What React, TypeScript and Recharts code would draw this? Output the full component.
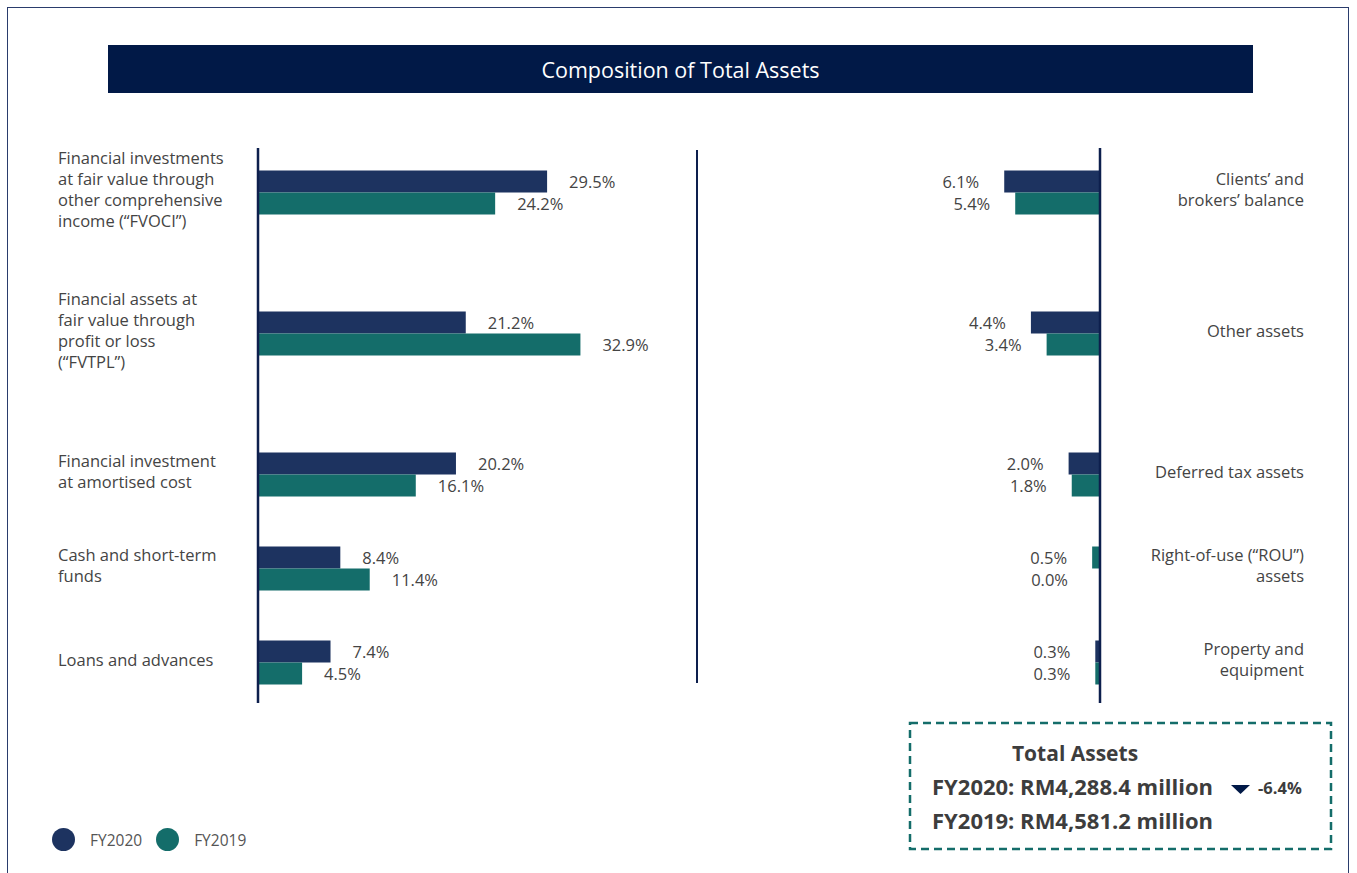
import React from 'react';
import { BarChart, Bar, XAxis, YAxis, LabelList, Legend, Cell } from 'recharts';

// ---- data ----
const leftCategories = [
  'Financial investments\nat fair value through\nother comprehensive\nincome (“FVOCI”)',
  'Financial assets at\nfair value through\nprofit or loss\n(“FVTPL”)',
  'Financial investment\nat amortised cost',
  'Cash and short-term\nfunds',
  'Loans and advances',
];
const leftFY2020 = [29.5, 21.2, 20.2, 8.4, 7.4];
const leftFY2019 = [24.2, 32.9, 16.1, 11.4, 4.5];

const rightCategories = [
  'Clients’ and\nbrokers’ balance',
  'Other assets',
  'Deferred tax assets',
  'Right-of-use (“ROU”)\nassets',
  'Property and\nequipment',
];
const rightFY2020 = [6.1, 4.4, 2.0, 0.5, 0.3];
const rightFY2019 = [5.4, 3.4, 1.8, 0.0, 0.3];

const seriesNames = ['FY2020', 'FY2019'];
const totalTitle = 'Total Assets';
const totalLines = ['FY2020: RM4,288.4 million', 'FY2019: RM4,581.2 million'];
const totalChange = '-6.4%';
const chartTitle = 'Composition of Total Assets';

// ---- layout (row slots on an 11-slot band axis) ----
const ROW_SLOTS = [0, 3, 6, 8, 10];
const SLOT_COUNT = 11;

const NAVY = '#1d3360';
const TEAL = '#146d6a';
const AXIS = '#0d1f4d';
const TEXT = '#444444';
const FONT = '"Open Sans", Lato, sans-serif';

function buildRows(cats: string[], a: number[], b: number[]) {
  const rows: any[] = [];
  for (let s = 0; s < SLOT_COUNT; s++) {
    const idx = ROW_SLOTS.indexOf(s);
    if (idx >= 0) rows.push({ name: cats[idx], fy2020: a[idx], fy2019: b[idx] });
    else rows.push({ name: `__gap${s}`, fy2020: null, fy2019: null });
  }
  return rows;
}

const leftRows = buildRows(leftCategories, leftFY2020, leftFY2019);
const rightRows = buildRows(rightCategories, rightFY2020, rightFY2019);

const LINE_H = 21;
const LBL_SIZE = 16.5;
const VAL_SIZE = 16.5;

function MultiTick(props: any) {
  const { y, payload, tx, anchor } = props;
  const v: string = payload && payload.value != null ? String(payload.value) : '';
  if (!v || v.startsWith('__gap')) return null;
  const lines = v.split('\n');
  const start = y - ((lines.length - 1) / 2) * LINE_H - 2;
  return (
    <text x={tx} y={start} textAnchor={anchor} fill={TEXT} fontSize={LBL_SIZE} fontFamily={FONT}>
      {lines.map((ln, i) => (
        <tspan key={i} x={tx} y={start + i * LINE_H} dy="0.36em">
          {ln}
        </tspan>
      ))}
    </text>
  );
}

const valueText = (tx: number, ty: number, value: any, anchor: string) => (
  <text x={tx} y={ty} dy="0.38em" textAnchor={anchor} fill={TEXT} fontSize={VAL_SIZE} fontFamily={FONT}>
    {Number(value).toFixed(1)}%
  </text>
);

const renderLeftLabel = (p: any) => {
  const { x, y, width, height, value } = p;
  if (value === null || value === undefined || value === '') return null;
  return valueText(Number(x) + Number(width) + 22, Number(y) + Number(height) / 2, value, 'start');
};

const renderRightLabel = (p: any) => {
  const { x, y, width, height, value } = p;
  if (value === null || value === undefined || value === '') return null;
  const left = Math.min(Number(x), Number(x) + Number(width));
  return valueText(left - 25, Number(y) + Number(height) / 2, value, 'end');
};

// zero-valued FY2019 bars draw no rectangle, so their label is placed from the FY2020 bar just above
const renderRightZeroFY2019Label = (p: any) => {
  const { x, y, height, value } = p;
  if (value !== 0) return null;
  const zeroX = Number(x);
  return valueText(zeroX - 32, Number(y) + Number(height) * 1.5, value, 'end');
};

const LegendContent = (props: any) => {
  const payload = [...(props.payload || [])].sort(
    (a: any, b: any) => seriesNames.indexOf(a.value) - seriesNames.indexOf(b.value)
  );
  return (
    <div style={{ display: 'flex', alignItems: 'center', fontFamily: FONT, fontSize: 15.5, color: '#555' }}>
      {payload.map((e: any, i: number) => (
        <div key={i} style={{ display: 'flex', alignItems: 'center', marginRight: 14 }}>
          <span style={{ width: 23, height: 23, borderRadius: '50%', background: e.color, display: 'inline-block', marginRight: 15 }} />
          <span>{e.value}</span>
        </div>
      ))}
    </div>
  );
};

export default function App() {
  return (
    <div style={{ position: 'relative', width: 1357, height: 873, overflow: 'hidden', background: '#fff', fontFamily: FONT }}>
      <style>{'body{margin:0;}'}</style>
      {/* frame */}
      <div style={{ position: 'absolute', left: 7, top: 7, width: 1340, height: 900, border: '1px solid #2a3c6c' }} />
      {/* title bar */}
      <div
        style={{
          position: 'absolute', left: 108, top: 45, width: 1145, height: 48, background: '#011947',
          color: '#fff', fontSize: 21.5, lineHeight: '50px', textAlign: 'center', fontFamily: FONT,
        }}
      >
        {chartTitle}
      </div>
      {/* middle divider */}
      <div style={{ position: 'absolute', left: 696, top: 150, width: 2, height: 533, background: AXIS }} />

      {/* left chart */}
      <div style={{ position: 'absolute', left: 0, top: 0 }}>
        <BarChart width={700} height={873} data={leftRows} layout="vertical" margin={{ top: 148, right: 50, bottom: 170, left: 0 }} barGap={0} barSize={22}>
          <XAxis type="number" domain={[0, 40]} hide />
          <YAxis
            type="category"
            dataKey="name"
            width={258}
            interval={0}
            axisLine={{ stroke: AXIS, strokeWidth: 2.5 }}
            tickLine={false}
            padding={{ top: 20.5, bottom: 17.5 }}
            tick={(p: any) => <MultiTick {...p} tx={58} anchor="start" />}
          />
          <Bar dataKey="fy2020" name={seriesNames[0]} fill={NAVY} isAnimationActive={false}>
            <LabelList dataKey="fy2020" content={renderLeftLabel} />
          </Bar>
          <Bar dataKey="fy2019" name={seriesNames[1]} fill={TEAL} isAnimationActive={false}>
            <LabelList dataKey="fy2019" content={renderLeftLabel} />
          </Bar>
          <Legend
            layout="vertical"
            verticalAlign="middle"
            align="center"
            wrapperStyle={{ position: 'absolute', left: 52, top: 828, width: 260, height: 24 }}
            content={<LegendContent />}
          />
        </BarChart>
      </div>

      {/* right chart */}
      <div style={{ position: 'absolute', left: 700, top: 0 }}>
        <BarChart width={657} height={873} data={rightRows} layout="vertical" margin={{ top: 148, right: 0, bottom: 170, left: 243 }} barGap={0} barSize={22}>
          <XAxis type="number" domain={[0, 10]} reversed hide />
          <YAxis
            type="category"
            dataKey="name"
            orientation="right"
            width={257}
            interval={0}
            axisLine={{ stroke: AXIS, strokeWidth: 2.5 }}
            tickLine={false}
            padding={{ top: 20.5, bottom: 17.5 }}
            tick={(p: any) => <MultiTick {...p} tx={604} anchor="end" />}
          />
          <Bar dataKey="fy2020" name={seriesNames[0]} fill={NAVY} isAnimationActive={false}>
            {rightRows.map((r, i) => (
              <Cell key={i} fill={r.name === rightCategories[3] ? TEAL : NAVY} />
            ))}
            <LabelList dataKey="fy2020" content={renderRightLabel} />
            <LabelList dataKey="fy2019" content={renderRightZeroFY2019Label} />
          </Bar>
          <Bar dataKey="fy2019" name={seriesNames[1]} fill={TEAL} isAnimationActive={false}>
            <LabelList dataKey="fy2019" content={renderRightLabel} />
          </Bar>
        </BarChart>
      </div>

      {/* total assets box */}
      <svg style={{ position: 'absolute', left: 908, top: 721, overflow: 'visible' }} width={426} height={132}>
        <rect x={2} y={2} width={421} height={126} fill="none" stroke={TEAL} strokeWidth={2.5} strokeDasharray="8 5" />
        <text x={167} y={40} textAnchor="middle" fill="#3d3d3d" fontSize={21} fontWeight={700} fontFamily={FONT}>{totalTitle}</text>
        <text x={24} y={74} fill="#3d3d3d" fontSize={22} fontWeight={700} fontFamily={FONT}>{totalLines[0]}</text>
        <polygon points="323,64 342,64 332.5,73" fill="#011947" />
        <text x={350} y={73} fill="#3d3d3d" fontSize={16.5} fontWeight={700} fontFamily={FONT}>{totalChange}</text>
        <text x={24} y={108} fill="#3d3d3d" fontSize={22} fontWeight={700} fontFamily={FONT}>{totalLines[1]}</text>
      </svg>
    </div>
  );
}
